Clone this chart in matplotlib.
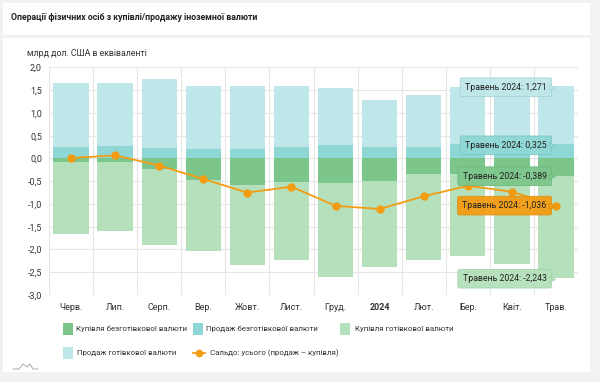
import matplotlib.pyplot as plt
from matplotlib.patches import Rectangle
from matplotlib.lines import Line2D
import numpy as np

plt.rcParams['font.family'] = ['Roboto', 'DejaVu Sans']

months = ['Черв.', 'Лип.', 'Серп.', 'Вер.', 'Жовт.', 'Лист.',
          'Груд.', '2024', 'Лют.', 'Бер.', 'Квіт.', 'Трав.']
# bn USD, positive = sale, negative = purchase
sale_noncash = [0.26, 0.27, 0.24, 0.205, 0.205, 0.25, 0.29, 0.25, 0.25, 0.31, 0.29, 0.325]
sale_cash = [1.41, 1.39, 1.505, 1.385, 1.385, 1.34, 1.27, 1.03, 1.14, 1.26, 1.26, 1.271]
buy_noncash = [-0.07, -0.07, -0.235, -0.48, -0.59, -0.51, -0.53, -0.50, -0.35, -0.35, -0.37, -0.389]
buy_cash = [-1.59, -1.53, -1.675, -1.56, -1.76, -1.72, -2.07, -1.89, -1.87, -1.80, -1.94, -2.243]
saldo = [0.01, 0.07, -0.155, -0.45, -0.75, -0.62, -1.04, -1.11, -0.83, -0.60, -0.73, -1.036]

c_buy_nc = '#7cc68b'
c_sale_nc = '#8fd7d5'
c_buy_c = '#b4e0bb'
c_sale_c = '#bfe7e9'
c_line = '#f39c12'
txt = '#333333'

fig = plt.figure(figsize=(6, 3.82), dpi=100)
fig.patch.set_facecolor('#f2f2f2')
# card panels
fig.add_artist(Rectangle((3/600, 1-35/382), 587/600, 32/382, transform=fig.transFigure,
                         facecolor='white', edgecolor='none', zorder=-5))
fig.add_artist(Rectangle((3/600, 1-372/382), 587/600, 334/382, transform=fig.transFigure,
                         facecolor='white', edgecolor='none', zorder=-5))

fig.text(11/600, 1-18/382, 'Операції фізичних осіб з купівлі/продажу іноземної валюти',
         fontsize=6.3, fontweight='bold', color='#222222', va='center')
fig.text(27/600, 1-53/382, 'млрд дол. США в еквіваленті', fontsize=6.3,
         color=txt, va='center')

ax = fig.add_axes([49/600, 1-295/382, 529/600, 227.5/382])
x = np.arange(len(months))
w = 0.8

ax.bar(x, sale_noncash, w, color=c_sale_nc, zorder=2)
ax.bar(x, sale_cash, w, bottom=sale_noncash, color=c_sale_c, zorder=2)
ax.bar(x, buy_noncash, w, color=c_buy_nc, zorder=2)
ax.bar(x, buy_cash, w, bottom=buy_noncash, color=c_buy_c, zorder=2)
ax.plot(x, saldo, '-o', color=c_line, lw=1.3, ms=5, zorder=4)

ax.set_xlim(-0.5, 11.5)
ax.set_ylim(-3.0, 2.0)
ax.set_yticks(np.arange(-3.0, 2.01, 0.5))
ax.set_yticklabels([f'{v:.1f}'.replace('.', ',') for v in np.arange(-3.0, 2.01, 0.5)])
ax.set_xticks(x)
ax.set_xticklabels(months)
ax.get_xticklabels()[7].set_fontweight('bold')
ax.set_xticks(np.arange(-0.5, 11.6, 1), minor=True)
ax.tick_params(axis='both', which='both', length=0, labelsize=6.5, colors=txt)
ax.tick_params(axis='y', pad=5)
ax.tick_params(axis='x', pad=6)
ax.grid(True, which='minor', axis='x', color='#e6e6e6', lw=0.8, zorder=0)
ax.grid(True, which='major', axis='y', color='#e6e6e6', lw=0.8, zorder=0)
ax.axhline(0, color='#cccccc', lw=0.8, zorder=1)
for s in ax.spines.values():
    s.set_visible(False)

# tooltips for the last month
last = len(months) - 1
tips = [
    (sale_noncash[-1] + sale_cash[-1] - 0.03, sale_cash[-1], c_sale_c, '#9fd3d6'),
    (sale_noncash[-1] - 0.035, sale_noncash[-1], c_sale_nc, '#7cc5c3'),
    (buy_noncash[-1], buy_noncash[-1], c_buy_nc, '#6cb57b'),
    (saldo[-1], saldo[-1], c_line, '#e08e10'),
    (buy_noncash[-1] + buy_cash[-1] - 0.01, buy_cash[-1], c_buy_c, '#a0d2a8'),
]
for yy, val, fc, ec in tips:
    lab = f'Травень 2024: {val:.3f}'.replace('.', ',')
    ax.text(last - 0.21, yy, lab, ha='right', va='center', fontsize=6.3, color='#222222',
            zorder=6, bbox=dict(boxstyle='round,pad=0.55,rounding_size=0.2',
                                facecolor=fc, edgecolor=ec, lw=0.6, alpha=0.95))
    ax.plot(last - 0.1, yy, marker='>', ms=4, color=fc, mec=ec, mew=0.5, zorder=6,
            clip_on=False)

# legend
def sq(xp, yp, color):
    fig.add_artist(Rectangle((xp/600, 1-(yp+6)/382), 10/600, 12/382,
                             transform=fig.transFigure, facecolor=color, edgecolor='none'))

leg_row1 = 1 - 329/382
leg_row2 = 1 - 353/382
fs_leg = 5.7
sq(63, 329, c_buy_nc)
fig.text(76/600, leg_row1, 'Купівля безготівкової валюти', fontsize=fs_leg, color=txt, va='center')
sq(193, 329, c_sale_nc)
fig.text(206/600, leg_row1, 'Продаж безготівкової валюти', fontsize=fs_leg, color=txt, va='center')
sq(340, 329, c_buy_c)
fig.text(355/600, leg_row1, 'Купівля готівкової валюти', fontsize=fs_leg, color=txt, va='center')
sq(63, 353, c_sale_c)
fig.text(77/600, leg_row2, 'Продаж готівкової валюти', fontsize=fs_leg, color=txt, va='center')
fig.add_artist(Line2D([193/600, 205/600], [leg_row2, leg_row2], color=c_line, lw=1.3,
                      transform=fig.transFigure))
fig.add_artist(Line2D([199/600], [leg_row2], marker='o', ms=4.5, color=c_line,
                      transform=fig.transFigure))
fig.text(210/600, leg_row2, 'Сальдо: усього (продаж – купівля)', fontsize=fs_leg, color=txt, va='center')

# small logo bottom-left
lx = np.array([13, 19, 23, 27, 30, 33, 38]) / 600
ly = 1 - np.array([369, 369, 364, 367, 364, 369, 369]) / 382
fig.add_artist(Line2D(lx, ly, color='#aaaaaa', lw=0.7, transform=fig.transFigure))

fig.savefig('out.png', dpi=100, facecolor=fig.get_facecolor())
